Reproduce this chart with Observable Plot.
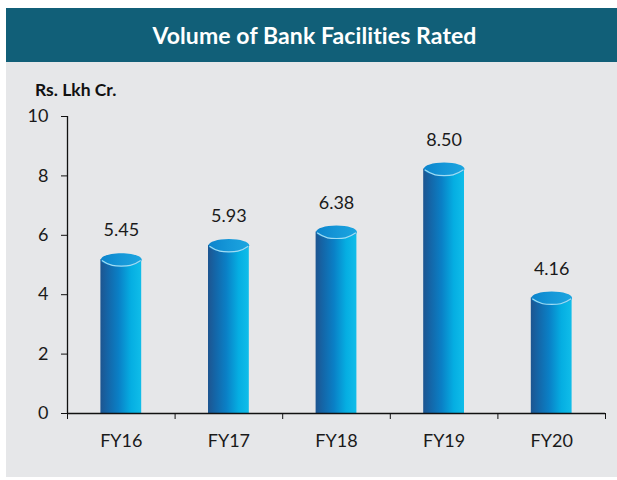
<!DOCTYPE html>
<html>
<head>
<meta charset="utf-8">
<script src="https://cdn.jsdelivr.net/npm/d3@7"></script>
<script src="https://cdn.jsdelivr.net/npm/@observablehq/plot@0.6"></script>
<style>
  html, body { margin: 0; padding: 0; background: #ffffff; }
  * { font-variant-ligatures: none; font-feature-settings: "liga" 0, "clig" 0, "dlig" 0; }
  #panel { position: absolute; left: 6px; top: 8px; width: 611px; height: 469px; background: #e6e7e9; }
  #title { height: 54px; background: #115f78; color: #fff; font: bold 23px Lato, "Open Sans", sans-serif;
           letter-spacing: 0.1px;
           display: flex; align-items: center; justify-content: center; padding-left: 6px; box-sizing: border-box; }
  #unit { position: absolute; left: 29px; top: 71px; font: bold 17.5px Lato, sans-serif; color: #111; }
  #chart { position: absolute; left: 0; top: 54px; }
</style>
</head>
<body>
<div id="panel">
  <div id="title">Volume of Bank Facilities Rated</div>
  <div id="unit">Rs. Lkh Cr.</div>
  <div id="chart"></div>
</div>
<script>
const categories = ["FY16", "FY17", "FY18", "FY19", "FY20"];
const values = [5.45, 5.93, 6.38, 8.50, 4.16];
const yTicks = [0, 2, 4, 6, 8, 10];
const labels = ["5.45", "5.93", "6.38", "8.50", "4.16"];

const data = categories.map((c, i) => ({c, i, v: values[i], label: labels[i]}));
const boundaries = d3.range(categories.length + 1);
const centers = categories.map((c, i) => i + 0.5);

const RX = 20.4, RY = 6.5, K = 0.5523;
const ellipse = {
  draw(ctx) {
    ctx.moveTo(RX, 0);
    ctx.bezierCurveTo(RX, RY * K, RX * K, RY, 0, RY);
    ctx.bezierCurveTo(-RX * K, RY, -RX, RY * K, -RX, 0);
    ctx.bezierCurveTo(-RX, -RY * K, -RX * K, -RY, 0, -RY);
    ctx.bezierCurveTo(RX * K, -RY, RX, -RY * K, RX, 0);
    ctx.closePath();
  }
};
const rim = {
  draw(ctx) {
    ctx.moveTo(-RX + 1, 0.8);
    ctx.bezierCurveTo(-RX * K, RY, -RX * 0.3, RY, 0, RY);
    ctx.bezierCurveTo(RX * 0.3, RY, RX * K, RY, RX - 1, 0.8);
  }
};

const font = "Lato, 'Open Sans', sans-serif";
const plot = Plot.plot({
  width: 611,
  height: 415,
  marginLeft: 61,
  marginRight: 12,
  marginTop: 54,
  marginBottom: 64,
  style: {background: "transparent", fontFamily: font, fontSize: "18px", color: "#1a1a1a", overflow: "visible"},
  x: {domain: [0, categories.length], axis: null},
  y: {domain: [0, 10], axis: null},
  marks: [
    Plot.rect(data, {x1: "i", x2: d => d.i + 1, y1: 0, y2: "v", insetLeft: 33.4, insetRight: 33.4, insetTop: 8, fill: "url(#bodyGrad)"}),
    Plot.dot(data, {x: d => d.i + 0.5, y: "v", dy: 8, r: 1, symbol: ellipse, fill: "url(#capGrad)", stroke: "none"}),
    Plot.dot(data, {x: d => d.i + 0.5, y: "v", dy: 8, r: 1, symbol: rim, fill: "none", stroke: "#9fdcf3", strokeWidth: 1.2}),
    Plot.text(data, {x: d => d.i + 0.5, y: "v", dy: -21, text: "label", fontSize: 18, fill: "#1a1a1a", lineAnchor: "middle"}),
    Plot.ruleY([0], {stroke: "#111", strokeWidth: 1.3}),
    Plot.ruleX([0], {y1: 0, y2: 10, stroke: "#111", strokeWidth: 1.3}),
    Plot.axisY({ticks: yTicks, tickSize: 6, tickPadding: 13, fontSize: 18, stroke: "#111", fill: "#1a1a1a", label: null}),
    Plot.axisX({ticks: boundaries, tickSize: 6, tickFormat: () => "", stroke: "#111", label: null}),
    Plot.axisX({ticks: centers, tickSize: 0, tickPadding: 21, tickFormat: d => categories[Math.floor(d)], fontSize: 18, fill: "#1a1a1a", label: null})
  ]
});

const svg = d3.select(plot);
const defs = svg.insert("defs", ":first-child");
const bg = defs.append("linearGradient").attr("id", "bodyGrad").attr("x1", 0).attr("x2", 1).attr("y1", 0).attr("y2", 0);
[[0, "#1d5590"], [0.18, "#1466a8"], [0.45, "#0a80c6"], [0.75, "#05aee2"], [1, "#10bde9"]].forEach(([o, c]) =>
  bg.append("stop").attr("offset", o).attr("stop-color", c));
const cg = defs.append("linearGradient").attr("id", "capGrad").attr("x1", 0).attr("x2", 1).attr("y1", 0).attr("y2", 0);
[[0, "#0c84cc"], [0.5, "#1597d8"], [1, "#1ca6e0"]].forEach(([o, c]) =>
  cg.append("stop").attr("offset", o).attr("stop-color", c));

document.getElementById("chart").appendChild(plot);
</script>
</body>
</html>
